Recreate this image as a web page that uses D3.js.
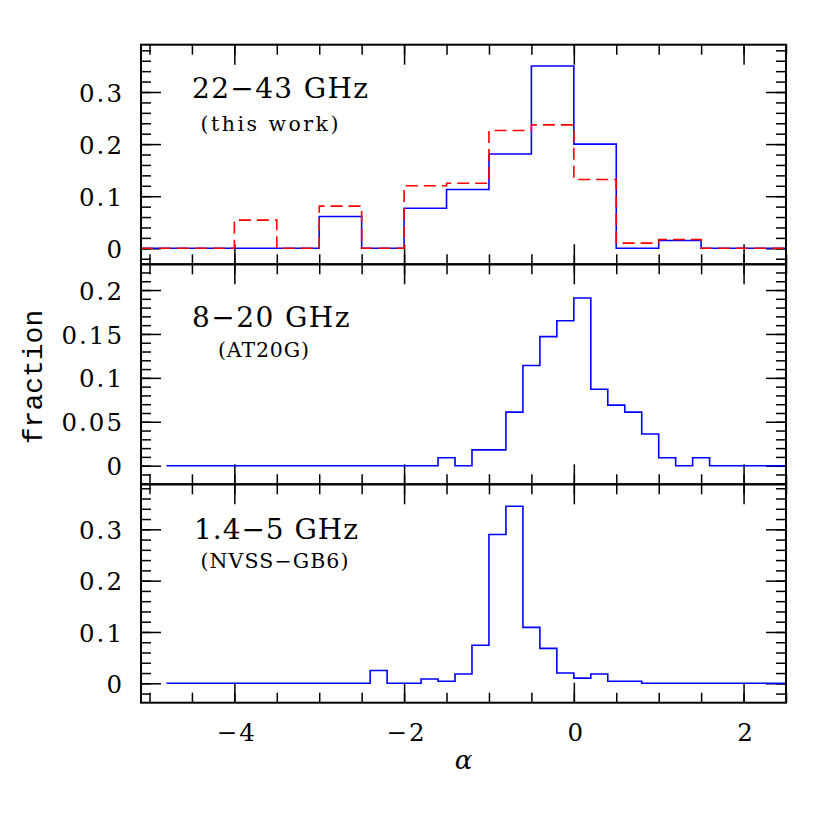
<!DOCTYPE html>
<html>
<head>
<meta charset="utf-8">
<script src="https://cdn.jsdelivr.net/npm/d3@7/dist/d3.min.js"></script>
<style>
  body { margin: 0; background: #fff; }
</style>
</head>
<body>
<div class="chart"></div>
<script>
/*DONNEES : HISTOGRAMMES DES INDICES SPECTRAUX*/
var alphaRange = [-5.1, 2.5];
var xTickLabels = [-4, -2, 0, 2];

// 22-43 GHz, bins de 0.5 depuis -5.5
var bins43Start = -5.5, bins43Width = 0.5;
var frac43Solid  = [0, 0, 0, 0, 0, 0.061, 0, 0.077, 0.113, 0.181, 0.350, 0.200, 0, 0.015, 0, 0];
var frac43Dashed = [0, 0, 0, 0.054, 0, 0.081, 0, 0.120, 0.125, 0.226, 0.237, 0.132, 0.010, 0.017, 0, 0];

// 8-20 GHz (AT20G), bins de 0.2 depuis -4.8
var binsAT20GStart = -4.8, binsAT20GWidth = 0.2;
var fracAT20G = [0, 0, 0, 0, 0, 0, 0, 0, 0, 0, 0, 0, 0, 0, 0, 0,
                 0.009, 0, 0.018, 0.018, 0.061, 0.114, 0.147, 0.165, 0.191,
                 0.087, 0.069, 0.061, 0.036, 0.009, 0, 0.009, 0, 0, 0, 0, 0];

// 1.4-5 GHz (NVSS-GB6), bins de 0.2 depuis -4.8
var binsNVSSStart = -4.8, binsNVSSWidth = 0.2;
var fracNVSS = [0, 0, 0, 0, 0, 0, 0, 0, 0, 0, 0, 0,
                0.025, 0, 0, 0.0085, 0.004, 0.018, 0.074, 0.290, 0.345,
                0.109, 0.068, 0.020, 0.010, 0.018, 0.004, 0.004,
                0, 0, 0, 0, 0, 0, 0, 0, 0];

var yTickLabels43 = [0, 0.1, 0.2, 0.3];
var yTickLabelsAT20G = [0, 0.05, 0.1, 0.15, 0.2];
var yTickLabelsNVSS = [0, 0.1, 0.2, 0.3];

var titles = ["22\u221243 GHz", "8\u221220 GHz", "1.4\u22125 GHz"];
var subtitles = ["(this work)", "(AT20G)", "(NVSS\u2212GB6)"];

/*MISE EN PAGE*/
var left = 141, right = 786;
var fontSerif = "'DejaVu Serif', serif";

var svg = d3.select(".chart")
    .append("svg")
    .attr("width", 830)
    .attr("height", 830);

var x = d3.scaleLinear().domain(alphaRange).range([left, right]);
var xLine = x.copy().clamp(true);

var panels = [
  { top: 44.7, bottom: 264.3, domain: [-0.0307, 0.3908], minor: 0.02, labels: yTickLabels43,
    series: [{ start: bins43Start, width: bins43Width, values: frac43Solid, color: "#0000ff", dash: null },
             { start: bins43Start, width: bins43Width, values: frac43Dashed, color: "#ff0000", dash: "12,6" }],
    title: [192, 98.3, 176], sub: [200.5, 130.7, 138] },
  { top: 264.3, bottom: 484.3, domain: [-0.0212, 0.2293], minor: 0.01, labels: yTickLabelsAT20G,
    series: [{ start: binsAT20GStart, width: binsAT20GWidth, values: fracAT20G, color: "#0000ff", dash: null }],
    title: [192, 327.3, 157.5], sub: [218, 356.7, 91] },
  { top: 484.3, bottom: 702.7, domain: [-0.0378, 0.3877], minor: 0.02, labels: yTickLabelsNVSS,
    series: [{ start: binsNVSSStart, width: binsNVSSWidth, values: fracNVSS, color: "#0000ff", dash: null }],
    title: [194, 539.3, 164], sub: [200.5, 568.3, 148] }
];

function fmt(v) { return v === 0 ? "0" : String(v); }
function fmtX(v) { return v < 0 ? "\u2212" + Math.abs(v) : String(v); }

function styleAxis(g) {
  g.select(".domain").remove();
  g.selectAll(".tick line").attr("stroke", "#000").attr("stroke-width", 1.5);
}

panels.forEach(function(p, k) {
  var y = d3.scaleLinear().domain(p.domain).range([p.bottom, p.top]);
  var g = svg.append("g");

  /*TICKS MINEURS ET MAJEURS, A L'INTERIEUR, SUR LES QUATRE COTES*/
  var yMinor = d3.range(Math.ceil(p.domain[0] / p.minor) * p.minor, p.domain[1], p.minor);
  var xMinor = x.ticks(15);

  g.append("g").attr("transform", "translate(" + left + ",0)")
    .call(d3.axisLeft(y).tickValues(yMinor).tickSizeInner(-10).tickSizeOuter(0).tickFormat(""))
    .call(styleAxis);
  g.append("g").attr("transform", "translate(" + right + ",0)")
    .call(d3.axisRight(y).tickValues(yMinor).tickSizeInner(-10).tickSizeOuter(0).tickFormat(""))
    .call(styleAxis);
  g.append("g").attr("transform", "translate(" + right + ",0)")
    .call(d3.axisRight(y).tickValues(p.labels).tickSizeInner(-20).tickSizeOuter(0).tickFormat(""))
    .call(styleAxis);

  var yAxis = g.append("g").attr("transform", "translate(" + left + ",0)")
    .call(d3.axisLeft(y).tickValues(p.labels).tickSizeInner(-20).tickSizeOuter(0)
      .tickPadding(17).tickFormat(fmt))
    .call(styleAxis);
  yAxis.attr("font-family", null).attr("font-size", null);
  yAxis.selectAll("text")
    .attr("font-family", fontSerif)
    .attr("font-size", 24.5)
    .attr("letter-spacing", 2)
    .attr("dy", "0.37em")
    .attr("fill", "#000");

  g.append("g").attr("transform", "translate(0," + p.bottom + ")")
    .call(d3.axisBottom(x).tickValues(xMinor).tickSizeInner(-10).tickSizeOuter(0).tickFormat(""))
    .call(styleAxis);
  g.append("g").attr("transform", "translate(0," + p.top + ")")
    .call(d3.axisTop(x).tickValues(xMinor).tickSizeInner(-10).tickSizeOuter(0).tickFormat(""))
    .call(styleAxis);
  g.append("g").attr("transform", "translate(0," + p.top + ")")
    .call(d3.axisTop(x).tickValues(xTickLabels).tickSizeInner(-20).tickSizeOuter(0).tickFormat(""))
    .call(styleAxis);

  var xAxis = g.append("g").attr("transform", "translate(0," + p.bottom + ")")
    .call(d3.axisBottom(x).tickValues(xTickLabels).tickSizeInner(-20).tickSizeOuter(0)
      .tickPadding(21).tickFormat(k === panels.length - 1 ? fmtX : ""))
    .call(styleAxis);
  xAxis.attr("font-family", null).attr("font-size", null);
  xAxis.selectAll("text")
    .attr("font-family", fontSerif)
    .attr("font-size", 24.5)
    .attr("letter-spacing", 2)
    .attr("dx", 2)
    .attr("fill", "#000");

  /*HISTOGRAMMES EN ESCALIER*/
  var line = d3.line()
    .x(function(d) { return xLine(d[0]); })
    .y(function(d) { return y(d[1]); })
    .curve(d3.curveStepAfter);

  p.series.forEach(function(s) {
    var pts = s.values.map(function(v, i) { return [s.start + i * s.width, v]; });
    pts.push([s.start + s.values.length * s.width, s.values[s.values.length - 1]]);
    g.append("path")
      .datum(pts)
      .attr("d", line)
      .attr("fill", "none")
      .attr("stroke", s.color)
      .attr("stroke-width", 1.6)
      .attr("stroke-dasharray", s.dash);
  });

  /*CADRE*/
  g.append("rect")
    .attr("x", left)
    .attr("y", p.top)
    .attr("width", right - left)
    .attr("height", p.bottom - p.top)
    .attr("fill", "none")
    .attr("stroke", "#000")
    .attr("stroke-width", 2);

  /*TITRES DES PANNEAUX*/
  g.append("text")
    .attr("x", p.title[0])
    .attr("y", p.title[1])
    .attr("textLength", p.title[2])
    .attr("lengthAdjust", "spacing")
    .attr("font-family", fontSerif)
    .attr("font-size", 28)
    .text(titles[k]);

  g.append("text")
    .attr("x", p.sub[0])
    .attr("y", p.sub[1])
    .attr("textLength", p.sub[2])
    .attr("lengthAdjust", "spacing")
    .attr("font-family", fontSerif)
    .attr("font-size", 20.5)
    .text(subtitles[k]);
});

/*TITRES DES AXES*/
svg.append("text")
  .attr("x", (left + right) / 2)
  .attr("y", 769)
  .attr("text-anchor", "middle")
  .attr("font-family", fontSerif)
  .attr("font-style", "italic")
  .attr("font-size", 26)
  .text("\u03b1");

svg.append("text")
  .attr("transform", "translate(41.7,377) rotate(-90)")
  .attr("text-anchor", "middle")
  .attr("font-family", "'Liberation Mono', monospace")
  .attr("font-size", 28)
  .text("fraction");
</script>
</body>
</html>
